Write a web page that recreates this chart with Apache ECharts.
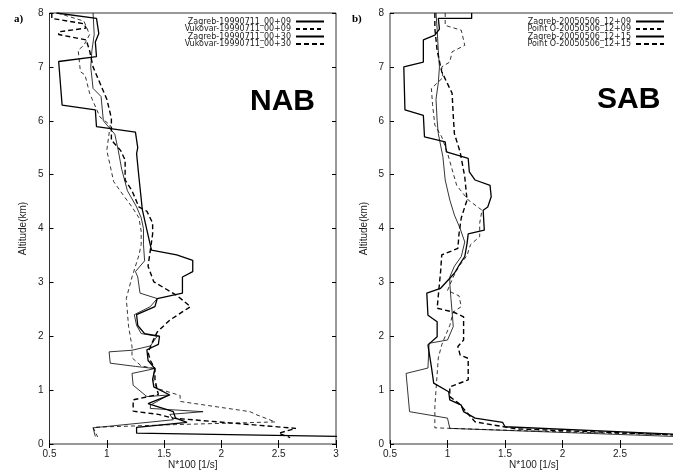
<!DOCTYPE html>
<html><head><meta charset="utf-8">
<script src="https://cdn.jsdelivr.net/npm/echarts@6/dist/echarts.min.js"></script>
<style>html,body{margin:0;padding:0;background:#fff}#c{width:673px;height:472px}</style>
</head><body><div id="c"></div>
<script>
// ---- Data (x = N*100 [1/s], y = altitude km) ----
const nabNames = ['Zagreb-19990711_00+09','Vukovar-19990711_00+09','Zagreb-19990711_00+30','Vukovar-19990711_00+30'];
const sabNames = ['Zagreb-20050506_12+09','Point O-20050506_12+09','Zagreb-20050506_12+15','Point O-20050506_12+15'];

const nabZagreb09 = [[0.88,8.0],[0.89,7.6],[0.87,7.3],[0.86,7.0],[0.88,6.6],[0.95,6.45],[0.97,6.0],[1.07,5.75],[1.10,5.45],[1.13,5.1],[1.18,4.7],[1.26,4.4],[1.30,4.2],[1.32,4.0],[1.32,3.7],[1.33,3.4],[1.25,3.2],[1.27,3.1],[1.29,2.8],[1.44,2.70],[1.38,2.55],[1.24,2.40],[1.26,2.2],[1.30,2.05],[1.44,2.0],[1.38,1.82],[1.22,1.74],[1.02,1.71],[1.03,1.50],[1.25,1.44],[1.42,1.40],[1.22,1.31],[1.23,1.09],[1.35,0.88],[1.54,0.91],[1.38,0.72],[1.38,0.66],[1.84,0.60],[1.55,0.55],[1.58,0.45],[0.88,0.30],[0.90,0.14]];
const nabVukovar09 = [[0.57,8.0],[0.80,7.85],[0.85,7.6],[0.80,7.4],[0.75,7.31],[0.77,6.91],[0.81,6.85],[0.85,6.51],[0.94,6.07],[1.03,5.92],[1.00,5.45],[1.06,4.87],[1.15,4.6],[1.22,4.4],[1.28,4.2],[1.30,3.95],[1.30,3.7],[1.28,3.5],[1.22,3.10],[1.17,2.70],[1.19,2.18],[1.22,1.81],[1.22,1.6],[1.30,1.45],[1.42,1.40],[1.40,1.2],[1.44,1.03],[1.64,0.90],[1.64,0.79],[2.25,0.60],[2.31,0.54],[2.47,0.41],[1.60,0.36],[0.88,0.31],[0.92,0.13]];
const nabZagreb30 = [[0.56,8.0],[0.91,7.90],[0.93,7.62],[0.90,7.46],[0.91,7.19],[0.58,7.10],[0.61,6.29],[0.90,6.20],[0.91,5.89],[1.25,5.79],[1.27,5.50],[1.26,5.39],[1.28,4.96],[1.31,4.35],[1.35,3.97],[1.39,3.60],[1.61,3.51],[1.75,3.41],[1.75,3.20],[1.66,3.10],[1.66,2.80],[1.44,2.70],[1.42,2.55],[1.26,2.40],[1.27,2.20],[1.33,2.05],[1.46,2.0],[1.45,1.85],[1.35,1.75],[1.36,1.55],[1.42,1.40],[1.40,1.2],[1.41,1.06],[1.55,0.91],[1.36,0.75],[1.58,0.60],[1.60,0.48],[1.70,0.40],[1.26,0.31],[1.26,0.20],[3.1,0.14]];
const nabVukovar30 = [[0.52,8.0],[0.52,7.9],[0.80,7.80],[0.82,7.72],[0.58,7.65],[0.58,7.60],[0.82,7.50],[0.85,7.3],[0.88,7.0],[0.92,6.8],[0.96,6.6],[1.00,6.4],[1.04,6.05],[1.04,5.64],[1.12,5.45],[1.16,5.27],[1.16,4.90],[1.22,4.7],[1.28,4.4],[1.35,4.32],[1.40,4.1],[1.40,3.9],[1.38,3.6],[1.36,3.3],[1.41,3.01],[1.61,2.76],[1.73,2.55],[1.55,2.30],[1.44,2.08],[1.40,1.9],[1.36,1.7],[1.38,1.55],[1.42,1.40],[1.42,1.2],[1.44,1.0],[1.45,0.92],[1.23,0.82],[1.23,0.61],[1.45,0.55],[1.58,0.48],[2.65,0.29],[2.50,0.20],[2.60,0.12]];

const sabZagreb09 = [[0.90,8.0],[0.91,7.7],[0.92,7.3],[0.93,7.0],[0.92,6.7],[0.90,6.4],[0.91,6.0],[0.92,5.76],[0.96,5.33],[0.98,4.9],[1.02,4.53],[1.06,4.25],[1.11,4.0],[1.15,3.75],[1.12,3.48],[1.06,3.3],[1.02,3.1],[1.02,2.98],[1.03,2.7],[1.04,2.45],[1.05,2.18],[1.00,1.93],[0.84,1.87],[0.83,1.41],[0.64,1.31],[0.67,0.60],[1.00,0.48],[1.02,0.29],[3.1,0.13]];
const sabPointO09 = [[0.98,8.0],[0.98,7.77],[1.12,7.68],[1.15,7.40],[1.04,7.28],[1.02,7.09],[0.95,7.0],[0.96,6.8],[0.86,6.60],[0.87,6.3],[0.89,5.92],[0.95,5.7],[1.00,5.4],[1.05,5.02],[1.08,4.8],[1.18,4.53],[1.30,4.34],[1.28,4.1],[1.28,3.85],[1.20,3.7],[1.17,3.5],[1.10,3.3],[1.05,3.1],[1.00,2.85],[1.10,2.75],[1.12,2.55],[1.05,2.45],[1.02,2.2],[0.98,2.0],[0.95,1.84],[0.92,1.6],[0.91,1.3],[0.90,1.0],[0.89,0.7],[0.89,0.3],[1.60,0.25],[3.1,0.16]];
const sabZagreb15 = [[1.21,8.0],[1.21,7.9],[0.92,7.9],[0.93,7.7],[0.89,7.59],[0.79,7.50],[0.79,7.09],[0.62,7.0],[0.63,6.2],[0.79,6.1],[0.80,5.70],[0.98,5.61],[0.99,5.42],[1.18,5.30],[1.19,5.05],[1.24,4.90],[1.37,4.80],[1.38,4.59],[1.35,4.40],[1.31,4.34],[1.32,3.97],[1.18,3.90],[1.17,3.72],[1.15,3.48],[1.11,3.35],[1.06,3.17],[0.94,2.89],[0.82,2.80],[0.83,2.39],[0.91,2.27],[0.91,1.99],[0.83,1.84],[0.86,1.43],[0.88,1.13],[1.01,0.97],[1.02,0.82],[1.12,0.72],[1.14,0.60],[1.24,0.48],[1.48,0.40],[1.50,0.32],[3.1,0.17]];
const sabPointO15 = [[0.89,8.0],[0.89,7.71],[0.91,7.3],[0.95,6.91],[1.04,6.51],[1.05,6.1],[1.06,5.76],[1.11,5.42],[1.15,4.96],[1.17,4.53],[1.12,4.2],[1.10,3.9],[1.09,3.63],[0.95,3.51],[0.94,3.2],[0.93,2.98],[0.91,2.52],[1.05,2.45],[1.14,2.36],[1.14,1.93],[1.09,1.81],[1.11,1.65],[1.18,1.59],[1.18,1.19],[1.02,1.06],[1.02,0.88],[1.10,0.75],[1.24,0.41],[1.60,0.28],[3.1,0.16]];

const xMin = 0.5, xMax = 3, xStep = 0.5;
const yMin = 0, yMax = 8, yStep = 1;

// ---- Chart ----
const txt = '#222';
const font = 'Liberation Sans, Arial, sans-serif';
const grids = [
  {left: 49.5, top: 13, width: 286.5, height: 431},
  {left: 390, top: 13, width: 287.5, height: 431}
];
function xAx(g, pos, labels) {
  return {type:'value', gridIndex:g, position:pos, min:xMin, max:xMax, interval:xStep,
    name: labels ? 'N*100 [1/s]' : '', nameLocation:'middle', nameGap:16, nameMoveOverlap:false,
    nameTextStyle:{fontSize:10, color:txt, fontFamily:font},
    axisLine:{show:false}, splitLine:{show:false},
    axisTick:{show:true, inside:true, length:4, lineStyle:{color:'#000'}},
    axisLabel:{show:labels, fontSize:10, color:txt, fontFamily:font, margin:5}};
}
function yAx(g, pos, labels) {
  return {type:'value', gridIndex:g, position:pos, min:yMin, max:yMax, interval:yStep,
    name: labels ? 'Altitude(km)' : '', nameLocation:'middle', nameGap:21, nameMoveOverlap:false,
    nameTextStyle:{fontSize:10, color:txt, fontFamily:font},
    axisLine:{show:false}, splitLine:{show:false},
    axisTick:{show:true, inside:true, length:4, lineStyle:{color:'#000'}},
    axisLabel:{show:labels, fontSize:10, color:txt, fontFamily:font, margin:6}};
}
const styles = [
  {width:0.8, type:'solid'},
  {width:0.8, type:[4,3]},
  {width:1.3, type:'solid'},
  {width:1.4, type:[5,3]}
];
function mk(name, data, g, k) {
  return {type:'line', name, data, xAxisIndex:g*2, yAxisIndex:g*2, symbol:'none', showSymbol:false,
    clip:true, animation:false, lineStyle:{color:'#000', width:styles[k].width, type:styles[k].type},
    itemStyle:{color:'#000'}};
}
const series = [
  mk(nabNames[0], nabZagreb09, 0, 0), mk(nabNames[1], nabVukovar09, 0, 1),
  mk(nabNames[2], nabZagreb30, 0, 2), mk(nabNames[3], nabVukovar30, 0, 3),
  mk(sabNames[0], sabZagreb09, 1, 0), mk(sabNames[1], sabPointO09, 1, 1),
  mk(sabNames[2], sabZagreb15, 1, 2), mk(sabNames[3], sabPointO15, 1, 3)
];
const rowTops = [17.5, 25, 32.5, 40];
function leg(name, right, top) {
  return {data:[name], orient:'vertical', align:'right', right:right, top:top, itemWidth:28, itemHeight:7,
    itemGap:0, selectedMode:false, itemStyle:{opacity:0},
    textStyle:{fontSize:8, color:txt, fontFamily:'DejaVu Sans, sans-serif'}, padding:0};
}
const legends = [];
nabNames.forEach((n, i) => legends.push(leg(n, 348, rowTops[i])));
sabNames.forEach((n, i) => legends.push(leg(n, 8, rowTops[i])));
const chart = echarts.init(document.getElementById('c'), null, {renderer:'canvas'});
chart.setOption({
  animation:false,
  backgroundColor:'#fff',
  grid: grids.map(g => Object.assign({show:true, borderColor:'#333', borderWidth:1, backgroundColor:'transparent', containLabel:false, outerBoundsMode:'none'}, g)),
  xAxis:[xAx(0,'bottom',true), xAx(0,'top',false), xAx(1,'bottom',true), xAx(1,'top',false)],
  yAxis:[yAx(0,'left',true), yAx(0,'right',false), yAx(1,'left',true), yAx(1,'right',false)],
  legend:legends,
  series,
  graphic:[
    {type:'text', left:14, top:14, style:{text:'a)', font:'bold 11px "Liberation Serif", serif', fill:'#000'}},
    {type:'text', left:352, top:14, style:{text:'b)', font:'bold 11px "Liberation Serif", serif', fill:'#000'}},
    {type:'text', left:250, top:87, style:{text:'NAB', font:'bold 30px "Liberation Sans", Arial, sans-serif', fill:'#000'}},
    {type:'text', left:597, top:85, style:{text:'SAB', font:'bold 30px "Liberation Sans", Arial, sans-serif', fill:'#000'}}
  ]
});
</script></body></html>
